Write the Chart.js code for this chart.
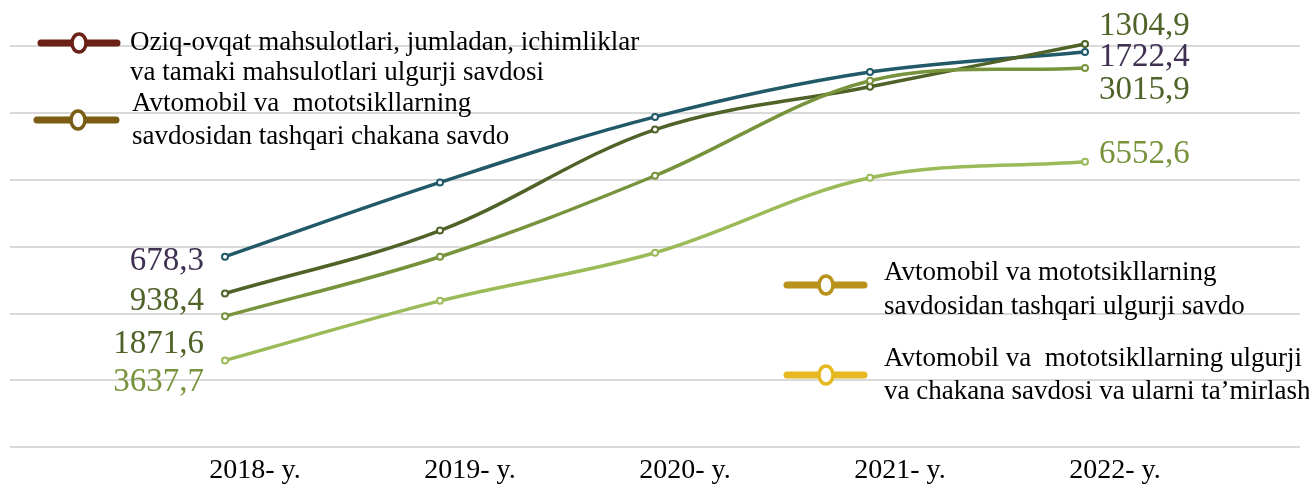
<!DOCTYPE html>
<html lang="uz">
<head>
  <meta charset="UTF-8">
  <title>Savdo</title>
  <script src="https://cdn.jsdelivr.net/npm/chart.js"></script>
  <style>
    body { margin: 0; background: #fff; }
    #wrap { position: relative; width: 1309px; height: 496px; }
  </style>
</head>
<body>
  <div id="wrap"><canvas id="chart"></canvas></div>

  <script>
    // categories
    const years = ['2018- y.', '2019- y.', '2020- y.', '2021- y.', '2022- y.'];

    // plotted levels of the four lines, in gridline units
    const levelA = [2.85, 3.96, 4.94, 5.61, 5.91];
    const levelB = [2.30, 3.24, 4.75, 5.39, 6.03];
    const levelC = [1.96, 2.85, 4.06, 5.48, 5.67];
    const levelD = [1.30, 2.19, 2.91, 4.03, 4.27];

    // value labels written at the first and last point of each line
    const firstValues = ['678,3', '938,4', '1871,6', '3637,7'];
    const lastValues = ['1722,4', '1304,9', '3015,9', '6552,6'];

    // legend texts
    const legendNames = [
      ['Oziq-ovqat mahsulotlari, jumladan, ichimliklar', 'va tamaki mahsulotlari ulgurji savdosi'],
      ['Avtomobil va  mototsikllarning', 'savdosidan tashqari chakana savdo'],
      ['Avtomobil va mototsikllarning', 'savdosidan tashqari ulgurji savdo'],
      ['Avtomobil va  mototsikllarning ulgurji', 'va chakana savdosi va ularni ta\u2019mirlash']
    ];

    const lineColors = ['#215968', '#4f6228', '#77933c', '#9bbb59'];
    const firstColors = ['#403152', '#4f6228', '#4f6228', '#77933c'];
    const lastColors = ['#403152', '#4f6228', '#4f6228', '#77933c'];
    // label shifts from the point: [dx, dy]
    const firstShift = [[-21, 5], [-21, 8], [-21, 28], [-21, 22]];
    const lastShift = [[14, 5], [14, -18], [14, 22], [14, -7]];

    // legend boxes: marker line x0..x1 at y, circle cx, text x and line centers
    const legendBoxes = [
      { color: '#6b2116', x0: 41, x1: 117, y: 43, cx: 79, tx: 130, ty: [43, 73] },
      { color: '#7a5c14', x0: 37, x1: 116, y: 120, cx: 78, tx: 132, ty: [104, 137] },
      { color: '#b8921a', x0: 787, x1: 864, y: 285, cx: 826, tx: 884, ty: [273, 307] },
      { color: '#e6b821', x0: 787, x1: 864, y: 375, cx: 826, tx: 884, ty: [359, 392] }
    ];

    const toPoints = arr => arr.map((v, i) => ({ x: i, y: v }));

    const serif = '"Liberation Serif", "Times New Roman", serif';

    const labelPlugin = {
      id: 'endLabels',
      afterDatasetsDraw(chart) {
        const ctx = chart.ctx;
        ctx.save();
        ctx.font = '33px ' + serif;
        ctx.textBaseline = 'middle';
        chart.data.datasets.forEach((ds, i) => {
          const pts = chart.getDatasetMeta(i).data;
          const first = pts[0], last = pts[pts.length - 1];
          ctx.fillStyle = firstColors[i];
          ctx.textAlign = 'right';
          ctx.fillText(firstValues[i], first.x + firstShift[i][0], first.y + firstShift[i][1]);
          ctx.fillStyle = lastColors[i];
          ctx.textAlign = 'left';
          ctx.fillText(lastValues[i], last.x + lastShift[i][0], last.y + lastShift[i][1]);
        });
        ctx.restore();
      },
      afterDraw(chart) {
        const ctx = chart.ctx;
        ctx.save();
        legendBoxes.forEach((b, i) => {
          ctx.strokeStyle = b.color;
          ctx.lineCap = 'round';
          ctx.lineWidth = 7;
          ctx.beginPath();
          ctx.moveTo(b.x0, b.y);
          ctx.lineTo(b.x1, b.y);
          ctx.stroke();
          ctx.beginPath();
          ctx.ellipse(b.cx, b.y, 7, 9, 0, 0, Math.PI * 2);
          ctx.fillStyle = '#fff';
          ctx.fill();
          ctx.lineWidth = 3.5;
          ctx.stroke();
          ctx.fillStyle = '#000';
          ctx.font = '27px ' + serif;
          ctx.textAlign = 'left';
          ctx.textBaseline = 'middle';
          legendNames[i].forEach((t, k) => ctx.fillText(t, b.tx, b.ty[k]));
        });
        ctx.restore();
      }
    };

    const levels = [levelA, levelB, levelC, levelD];

    new Chart(document.getElementById('chart'), {
      type: 'line',
      data: {
        datasets: levels.map((lv, i) => ({
          data: toPoints(lv),
          order: 4 - i,
          borderColor: lineColors[i],
          backgroundColor: '#fff',
          borderWidth: 3.5,
          tension: 0.35,
          pointRadius: 3,
          pointBorderWidth: 2,
          pointBackgroundColor: '#fff',
          pointBorderColor: lineColors[i]
        }))
      },
      options: {
        responsive: true,
        maintainAspectRatio: false,
        animation: false,
        layout: { padding: { top: 12.5, bottom: 3, left: 10, right: 9 } },
        plugins: { legend: { display: false }, tooltip: { enabled: false } },
        scales: {
          x: {
            type: 'linear',
            min: -1,
            max: 5,
            grid: { display: false, drawTicks: false },
            border: { display: false },
            ticks: {
              stepSize: 1,
              padding: 6,
              labelOffset: 30,
              color: '#000',
              font: { family: serif, size: 28 },
              callback: v => years[v] || ''
            }
          },
          y: {
            min: 0,
            max: 6.5,
            grid: {
              color: c => Number.isInteger(c.tick.value) ? '#d9d9d9' : 'rgba(0,0,0,0)',
              lineWidth: 2,
              drawTicks: false
            },
            border: { display: false },
            ticks: { display: false, stepSize: 1 }
          }
        }
      },
      plugins: [labelPlugin]
    });
  </script>
</body>
</html>
